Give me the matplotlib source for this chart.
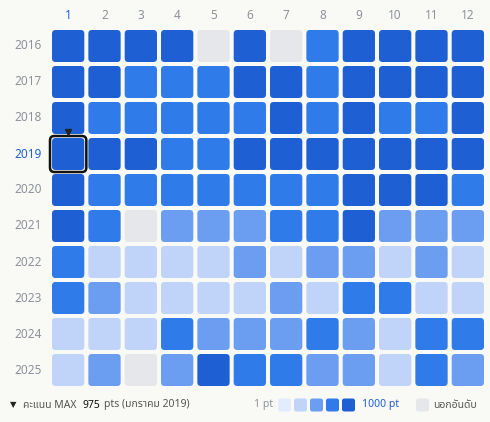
import matplotlib
matplotlib.use("Agg")
import matplotlib.pyplot as plt
import numpy as np
from matplotlib.patches import FancyBboxPatch

plt.rcParams["font.family"] = ["Noto Sans", "Noto Sans Thai", "DejaVu Sans"]

YEARS = [2016, 2017, 2018, 2019, 2020, 2021, 2022, 2023, 2024, 2025]
MONTHS = list(range(1, 13))
# points per month; None = outside the ranking
SCORES = [
    [890, 880, 900, 870, None, 860, None, 720, 850, 880, 870, 900],
    [880, 860, 700, 690, 710, 840, 850, 700, 860, 870, 880, 860],
    [850, 700, 690, 710, 700, 720, 830, 700, 860, 720, 700, 840],
    [975, 880, 860, 700, 720, 850, 860, 840, 870, 880, 850, 860],
    [870, 700, 720, 690, 710, 700, 720, 690, 860, 850, 870, 720],
    [860, 700, None, 500, 480, 520, 700, 690, 840, 520, 500, 510],
    [700, 300, 280, 320, 300, 510, 290, 480, 500, 310, 490, 300],
    [690, 500, 310, 290, 300, 310, 490, 300, 700, 720, 300, 310],
    [300, 290, 320, 700, 500, 510, 490, 700, 520, 310, 700, 690],
    [310, 490, None, 500, 860, 710, 700, 510, 490, 300, 720, 500],
]
MAX_YEAR, MAX_MONTH = 2019, 1
LEVEL_COLORS = ["#e3ecfd", "#c0d4fa", "#6b9ef0", "#2f7bea", "#1e5fd4"]
OUT_COLOR = "#e5e7eb"
BG = "#f9f9f6"
LABEL = "#8e929b"
ACCENT = "#1e5fd4"


def level_color(v):
    if v is None:
        return OUT_COLOR
    idx = min(int(v // 200), 4)
    return LEVEL_COLORS[idx]


fig = plt.figure(figsize=(4.9, 4.22), dpi=100)
fig.patch.set_facecolor(BG)
W, H = 490, 422
ax = fig.add_axes([50 / W, 1 - 388 / H, 436 / W, 360 / H])
ax.set_xlim(-0.5, 11.5)
ax.set_ylim(9.5, -0.5)
ax.axis("off")

size = 32 / 36
for r, year in enumerate(YEARS):
    for c, m in enumerate(MONTHS):
        v = SCORES[r][c]
        p = FancyBboxPatch((c - size / 2, r - size / 2), size, size,
                           boxstyle="round,pad=0,rounding_size=0.1",
                           facecolor=level_color(v), edgecolor="none")
        ax.add_patch(p)

mr, mc = YEARS.index(MAX_YEAR), MONTHS.index(MAX_MONTH)
ax.add_patch(FancyBboxPatch((mc - 0.5, mr - 0.5), 1.0, 1.0,
                            boxstyle="round,pad=0,rounding_size=0.12",
                            facecolor="none", edgecolor="#111111", linewidth=1.8,
                            clip_on=False))
ax.plot(mc, mr - 0.62, marker="v", color="#222222", markersize=5, clip_on=False)

for c, m in enumerate(MONTHS):
    hi = m == MAX_MONTH
    ax.text(c, -0.86, str(m), ha="center", va="center", fontsize=8.5,
            color=ACCENT if hi else LABEL, fontweight="bold" if hi else "normal")
for r, year in enumerate(YEARS):
    hi = year == MAX_YEAR
    ax.text(-0.72, r, str(year), ha="right", va="center", fontsize=8.5,
            color=ACCENT if hi else LABEL, fontweight="bold" if hi else "normal")

# footer
fy = 1 - 405 / H
sy = 1 - (405 + 6.5) / H
fig.text(10 / W, fy, "▼", fontsize=6, color="#222222", va="center",
         family="DejaVu Sans")
fig.text(23 / W, fy, "คะแนน MAX", fontsize=7.5, color="#555555", va="center")
fig.text(82 / W, fy, "975", fontsize=7.5, color="#111111", va="center",
         fontweight="bold")
fig.text(104 / W, fy, "pts (มกราคม 2019)", fontsize=7.5, color="#555555", va="center")
fig.text(254 / W, fy, "1 pt", fontsize=7.5, color=LABEL, va="center")
for i, col in enumerate(LEVEL_COLORS):
    x0 = 278 + i * 16
    fig.patches.append(FancyBboxPatch((x0 / W, sy), 13 / W, 13 / H,
                                      boxstyle="round,pad=0,rounding_size=0.005",
                                      transform=fig.transFigure, facecolor=col,
                                      edgecolor="none", figure=fig))
fig.text(362 / W, fy, "1000 pt", fontsize=7.5, color=ACCENT, va="center",
         fontweight="bold")
fig.patches.append(FancyBboxPatch((416 / W, sy), 13 / W, 13 / H,
                                  boxstyle="round,pad=0,rounding_size=0.005",
                                  transform=fig.transFigure, facecolor=OUT_COLOR,
                                  edgecolor="none", figure=fig))
fig.text(433 / W, fy, "นอกอันดับ", fontsize=7.5, color="#555555", va="center")

fig.savefig("out.png", dpi=100, facecolor=BG)
